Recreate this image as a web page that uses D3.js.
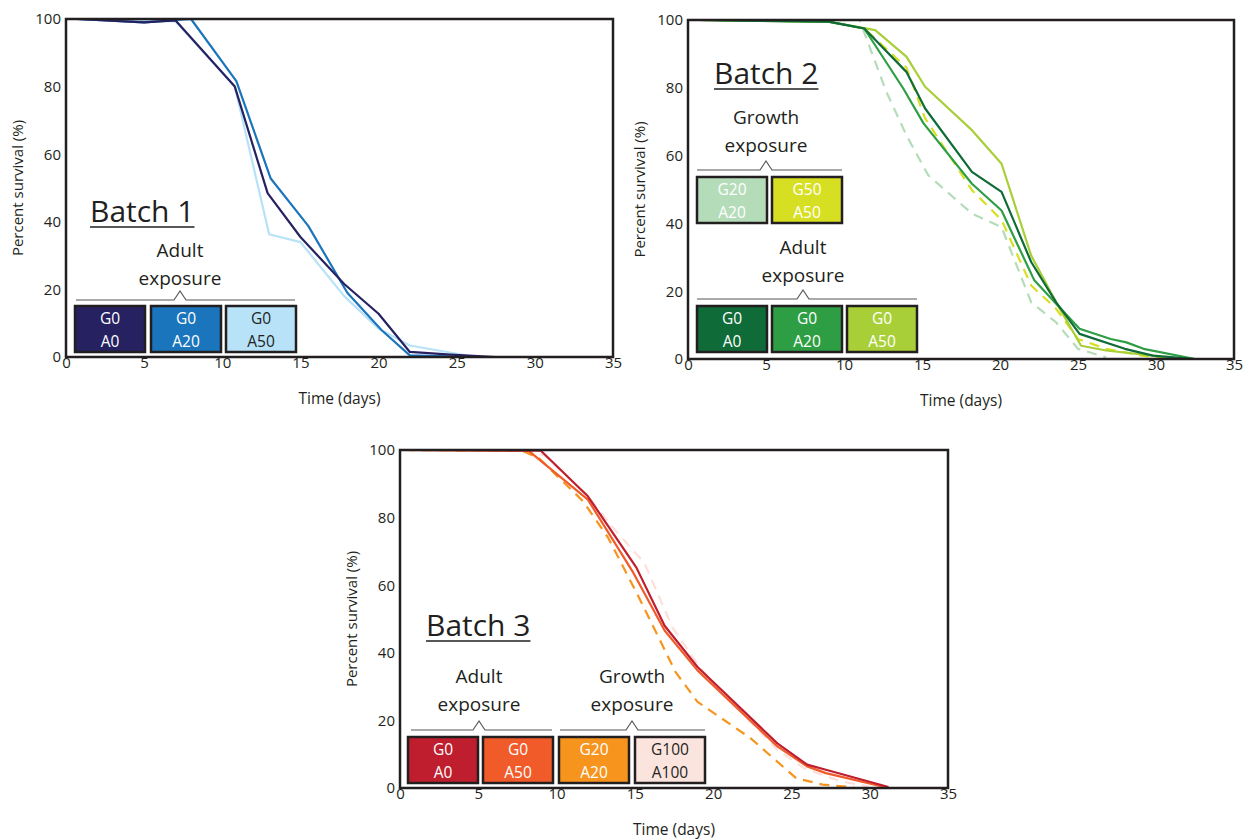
<!DOCTYPE html>
<html><head><meta charset="utf-8">
<script src="https://cdn.jsdelivr.net/npm/d3@7"></script>
<style>
body{margin:0;background:#fff;}
svg text{font-family:"Open Sans","Noto Sans",sans-serif;fill:#231f20;}
</style></head>
<body><svg id="c" width="1255" height="839"></svg>
<script>
// ---------- DATA ----------
const xTicks = [0,5,10,15,20,25,30,35];
const yTicks = [0,20,40,60,80,100];

// Batch 1 (day, percent survival)
const b1_G0A0  = [[0.7,100],[5,99],[7,99.6],[10.8,80],[12.9,48.5],[15,35.5],[17.8,21.6],[20,12.8],[22,1.5],[24.6,0.7],[27.5,0],[32.3,0]];
const b1_G0A20 = [[0.7,100],[5,99],[8,100],[10.9,81.6],[13.1,52.8],[15.5,38.8],[18,19],[20.2,7.9],[22,0.5],[26.2,0]];
const b1_G0A50 = [[0.7,100],[7,99.3],[10.8,80],[13,36.3],[15,34],[17.8,18],[20,8.4],[22,3.4],[26.2,0]];

// Batch 2
const b2_G0A0   = [[0.7,100],[9,99.5],[11.3,97.5],[14,84.7],[15.2,73.9],[18.2,55.2],[20.1,49.3],[22,28.6],[23.6,16.7],[25.1,7.4],[28,3],[29.8,1],[32.5,0]];
const b2_G0A20  = [[0.7,100],[9,99.5],[11.3,97.5],[13.8,79.8],[15.1,69.5],[18.2,51.7],[20.1,43.8],[22.2,23.2],[23.6,16.3],[25.1,8.9],[27.1,5.9],[28.1,4.9],[29.2,3],[32.5,0]];
const b2_G0A50  = [[0.7,100],[9,99.5],[12,97],[14,89.2],[15.2,80.3],[18.2,67.5],[20.1,57.6],[22,30.5],[23.6,16.7],[25.2,3.9],[26.8,2.5],[29.8,1],[31.2,0]];
const b2_G50A50 = [[0.7,100],[9,99.5],[11.3,97.5],[14,86],[15.2,71],[18.2,49.8],[20.1,41],[22,21.7],[23.6,14.8],[25,5.9],[26.8,3],[29.1,1],[31,0]];
const b2_G20A20 = [[0.7,100],[11,100],[12.7,79],[14,66],[15.4,54.2],[18.2,42.9],[20.1,38.9],[22,16.7],[23.6,10.8],[25,3],[26.8,0.5]];

// Batch 3
const b3_G0A0     = [[0.3,100],[9,99.8],[12,86.3],[15.1,65.2],[16.9,48],[19,35.8],[24.1,13.2],[26,6.9],[27.2,5.4],[31.2,0.3]];
const b3_G0A50    = [[0.3,100],[8.2,99.8],[12,85.3],[14.9,63.7],[16.9,46.6],[19,34.8],[24.1,12.3],[26,6.4],[27.2,4.4],[31.2,0]];
const b3_G20A20   = [[0.3,100],[7.8,99.8],[8.9,97.5],[11.7,84.8],[13.3,74],[15.3,56],[17.6,34.3],[19,25.5],[22.4,14.7],[25.3,2.9],[27,1],[29,0.2]];
const b3_G100A100 = [[0.3,100],[7.3,100],[9.2,98.5],[11.9,86.8],[13.7,76.5],[15.6,66.6],[17.4,47.5],[19.2,35.3],[24.1,11.3],[25.8,5.9],[28.1,2],[29.9,0.5]];

// ---------- DRAW ----------
const svg = d3.select("#c");
const ink = "#231f20";

const panels = [
  {left:66, top:19, right:613, bottom:357, title:"Batch 1", titleX:90, titleY:222,
   series:[
     {d:b1_G0A50, c:"#b7e2f8", dash:null},
     {d:b1_G0A20, c:"#1b75bc", dash:null},
     {d:b1_G0A0,  c:"#262262", dash:null}],
   groups:[{label:["Adult","exposure"], x0:76, x1:295, cx:180, ly:250, by:300}],
   boxes:[
     {x:75, y:306, lab:["G0","A0"], fill:"#262262", tc:"#fff"},
     {x:151,y:306, lab:["G0","A20"], fill:"#1b75bc", tc:"#fff"},
     {x:226,y:306, lab:["G0","A50"], fill:"#b7e2f8", tc:ink}]},
  {left:688, top:20, right:1234, bottom:359, title:"Batch 2", titleX:714, titleY:84,
   series:[
     {d:b2_G20A20, c:"#b5dcb9", dash:"10,7"},
     {d:b2_G50A50, c:"#d7df23", dash:"10,7"},
     {d:b2_G0A50,  c:"#a8cf38", dash:null},
     {d:b2_G0A20,  c:"#2e9e44", dash:null},
     {d:b2_G0A0,   c:"#0f6b37", dash:null}],
   groups:[{label:["Growth","exposure"], x0:697, x1:842, cx:766, ly:117, by:170},
           {label:["Adult","exposure"], x0:697, x1:917, cx:803, ly:247, by:299}],
   boxes:[
     {x:697, y:177, lab:["G20","A20"], fill:"#b5dcb9", tc:"#fff"},
     {x:772, y:177, lab:["G50","A50"], fill:"#d7df23", tc:"#fff"},
     {x:697, y:306, lab:["G0","A0"], fill:"#0f6b37", tc:"#fff"},
     {x:772, y:306, lab:["G0","A20"], fill:"#2e9e44", tc:"#fff"},
     {x:847, y:306, lab:["G0","A50"], fill:"#a8cf38", tc:"#fff"}]},
  {left:400, top:450, right:948, bottom:788, title:"Batch 3", titleX:426, titleY:636,
   series:[
     {d:b3_G100A100, c:"#fbe0da", dash:"10,7"},
     {d:b3_G20A20,   c:"#f7941d", dash:"10,7"},
     {d:b3_G0A50,    c:"#f15a29", dash:null},
     {d:b3_G0A0,     c:"#be1e2d", dash:null}],
   groups:[{label:["Adult","exposure"], x0:411, x1:552, cx:479, ly:676, by:730},
           {label:["Growth","exposure"], x0:560, x1:705, cx:632, ly:676, by:730}],
   boxes:[
     {x:408, y:737, lab:["G0","A0"], fill:"#be1e2d", tc:"#fff"},
     {x:483, y:737, lab:["G0","A50"], fill:"#f15a29", tc:"#fff"},
     {x:559, y:737, lab:["G20","A20"], fill:"#f7941d", tc:"#fff"},
     {x:635, y:737, lab:["G100","A100"], fill:"#fce4de", tc:ink}]}
];

panels.forEach(p => {
  const x = d3.scaleLinear().domain([0,35]).range([p.left, p.right]);
  const y = d3.scaleLinear().domain([0,100]).range([p.bottom, p.top]);
  const g = svg.append("g");

  // axes (labels only)
  const xa = g.append("g").attr("transform",`translate(0,${p.bottom})`)
    .call(d3.axisBottom(x).tickValues(xTicks).tickSize(0).tickPadding(4));
  const ya = g.append("g").attr("transform",`translate(${p.left},0)`)
    .call(d3.axisLeft(y).tickValues(yTicks).tickSize(0).tickPadding(5));
  [xa,ya].forEach(a => {
    a.select(".domain").remove();
    a.selectAll("text").style("font-family",'"Open Sans",sans-serif').style("font-size","15px").attr("fill",ink);
  });
  xa.selectAll("text").attr("dy","0.45em");

  g.append("text").attr("x",(p.left+p.right)/2).attr("y",p.bottom+47)
    .attr("text-anchor","middle").style("font-size","15.5px").text("Time (days)");
  g.append("text").attr("transform",`translate(${p.left-43},${(p.top+p.bottom)/2}) rotate(-90)`)
    .attr("text-anchor","middle").style("font-size","15px").text("Percent survival (%)");

  // lines
  const line = d3.line().x(d=>x(d[0])).y(d=>y(d[1]));
  p.series.forEach(s => {
    g.append("path").attr("d", line(s.d)).attr("fill","none")
      .attr("stroke", s.c).attr("stroke-width", 2.2)
      .attr("stroke-dasharray", s.dash).attr("stroke-linejoin","round");
  });

  // frame
  g.append("rect").attr("x",p.left).attr("y",p.top)
    .attr("width",p.right-p.left).attr("height",p.bottom-p.top)
    .attr("fill","none").attr("stroke",ink).attr("stroke-width",2.5);

  // Batch title
  const t = g.append("text").attr("x",p.titleX).attr("y",p.titleY)
    .style("font-size","30px").text(p.title);
  const bb = t.node().getBBox();
  g.append("line").attr("x1",bb.x).attr("x2",bb.x+bb.width)
    .attr("y1",p.titleY+5).attr("y2",p.titleY+5).attr("stroke",ink).attr("stroke-width",1.5);

  // groups
  p.groups.forEach(gr => {
    gr.label.forEach((l,i) => {
      g.append("text").attr("x",gr.cx).attr("y",gr.ly+i*28).attr("dy","0.35em")
        .attr("text-anchor","middle").style("font-size","19px").text(l);
    });
    g.append("path").attr("d",`M${gr.x0},${gr.by}H${gr.cx-6}L${gr.cx},${gr.by-9}L${gr.cx+6},${gr.by}H${gr.x1}`)
      .attr("fill","none").attr("stroke","#555").attr("stroke-width",1.2);
  });

  // boxes
  p.boxes.forEach(b => {
    g.append("rect").attr("x",b.x).attr("y",b.y).attr("width",70).attr("height",46)
      .attr("fill",b.fill).attr("stroke",ink).attr("stroke-width",2.5);
    b.lab.forEach((l,i) => {
      g.append("text").attr("x",b.x+35).attr("y",b.y+13+i*23).attr("dy","0.35em")
        .attr("text-anchor","middle").style("font-size","15.5px").style("fill",b.tc).text(l);
    });
  });
});
</script></body></html>
